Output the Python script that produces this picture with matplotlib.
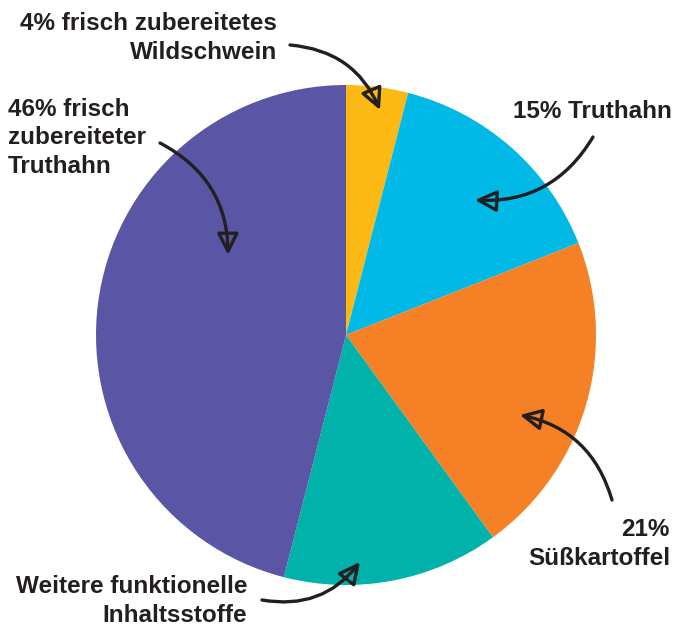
import matplotlib.pyplot as plt

# Anteile (im Uhrzeigersinn ab oben)
anteile = [4, 15, 21, 14, 46]
farben = ['#FDB913', '#00B9E6', '#F58025', '#00B2A9', '#5A56A5']

labels = ['4% frisch zubereitetes\nWildschwein',
          '15% Truthahn',
          '21%\nSüßkartoffel',
          'Weitere funktionelle\nInhaltsstoffe',
          '46% frisch\nzubereiteter\nTruthahn']

H = 627
plt.rcParams['font.family'] = ['Liberation Sans', 'DejaVu Sans']

fig = plt.figure(figsize=(6.76, 6.27), dpi=100)
ax = fig.add_axes([0, 0, 1, 1])

ax.pie(anteile, colors=farben, startangle=90, counterclock=False,
       center=(346, H - 335), radius=250, wedgeprops=dict(linewidth=0))
ax.set_xlim(0, 676)
ax.set_ylim(0, H)
ax.set_aspect('equal')
ax.axis('off')

# Beschriftungen: (x, y, Ausrichtung)
text_pos = [(277, 38, 'right'), (672, 112, 'right'), (670, 544, 'right'),
            (247, 601, 'right'), (8, 138, 'left')]
# Pfeile: Schwanz -> Spitze, Kruemmung
pfeile = [((290, 45), (380, 110), -0.3),
          ((593, 137), (475, 200), -0.3),
          ((612, 500), (520, 415), 0.3),
          ((262, 600), (360, 562), 0.3),
          ((160, 143), (228, 255), -0.3)]

for lab, (x, y, ha), (tail, head, rad) in zip(labels, text_pos, pfeile):
    ax.text(x, H - y, lab, ha=ha, va='center', fontsize=17.5, fontweight='bold',
            color='#231F20', linespacing=1.32)
    ax.annotate('', xy=(head[0], H - head[1]), xytext=(tail[0], H - tail[1]),
                arrowprops=dict(arrowstyle='-|>,head_length=1.3,head_width=0.65',
                                connectionstyle='arc3,rad=%s' % rad,
                                lw=2.4, color='#231F20', fc='none',
                                shrinkA=0, shrinkB=0))

fig.savefig('out.png', dpi=100)
